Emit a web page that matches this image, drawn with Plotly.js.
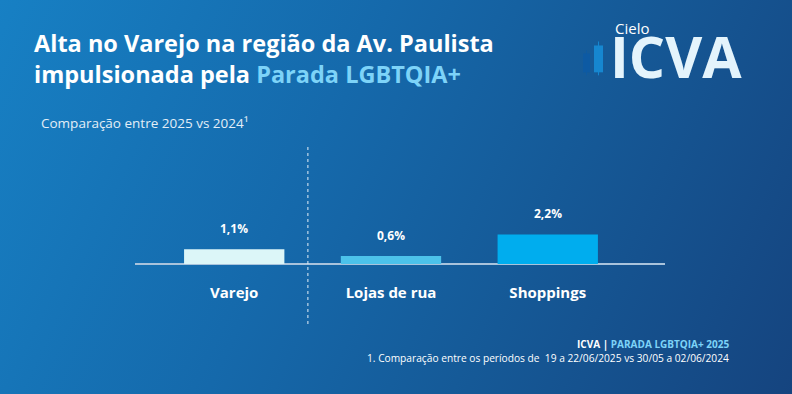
<!DOCTYPE html>
<html>
<head>
<meta charset="utf-8">
<script src="https://cdn.plot.ly/plotly-3.0.1.min.js"></script>
<style>
html,body{margin:0;padding:0;}
body{width:792px;height:394px;overflow:hidden;
background:linear-gradient(115deg,#1780c4 0%,#1569ab 40%,#155a98 65%,#15447f 100%);}
#chart{width:792px;height:394px;}
</style>
</head>
<body>
<div id="chart"></div>
<script>
const categories = ["Varejo", "Lojas de rua", "Shoppings"];
const values = [1.1, 0.6, 2.2];
const valueLabels = ["1,1%", "0,6%", "2,2%"];
const barColors = ["#dcf6f8", "#4cc2ea", "#00adee"];

const FONT = "Open Sans, Lato, sans-serif";

// plot area in pixels
const M = {l: 135, r: 127, t: 150, b: 129.5};
const PW = 792 - M.l - M.r, PH = 394 - M.t - M.b;
function px(x){return (x - M.l)/PW;}
function py(y){return (394 - M.b - y)/PH;}

const trace = {
  type: "bar",
  x: categories,
  y: values,
  marker: {color: barColors, line: {width: 0}},
  width: 0.64,
  hoverinfo: "skip"
};

const annotations = [];
categories.forEach((c, i) => {
  annotations.push({
    x: c, y: values[i], xref: "x", yref: "y",
    text: "<b>" + valueLabels[i] + "</b>",
    showarrow: false, yanchor: "bottom", yshift: 10,
    font: {family: FONT, size: 12, color: "#ffffff"}
  });
});

annotations.push(
  {xref: "paper", yref: "paper", x: px(33), y: py(58.5), xanchor: "left", yanchor: "middle",
   align: "left", showarrow: false, borderpad: 0,
   text: "<b>Alta no Varejo na região da Av. Paulista<br>impulsionada pela <span style='color:#7dd3f8'>Parada LGBTQIA+</span></b>",
   font: {family: FONT, size: 23.5, color: "#ffffff"}},
  {xref: "paper", yref: "paper", x: px(39), y: py(123), xanchor: "left", yanchor: "middle",
   showarrow: false, text: "Comparação entre 2025 vs 2024¹",
   font: {family: FONT, size: 13.5, color: "#e3eef7"}},
  {xref: "paper", yref: "paper", x: px(731), y: py(345), xanchor: "right", yanchor: "middle",
   showarrow: false, text: "<b>ICVA | <span style='color:#7dd3f8'>PARADA LGBTQIA+ 2025</span></b>",
   font: {family: FONT, size: 10, color: "#ffffff"}},
  {xref: "paper", yref: "paper", x: px(731), y: py(359), xanchor: "right", yanchor: "middle",
   showarrow: false, text: "1. Comparação entre os períodos de  19 a 22/06/2025 vs 30/05 a 02/06/2024",
   font: {family: FONT, size: 10.2, color: "#ffffff"}},
  {xref: "paper", yref: "paper", x: px(614), y: py(27), xanchor: "left", yanchor: "middle",
   showarrow: false, borderpad: 0, text: "Cielo",
   font: {family: FONT, size: 15, color: "#ffffff"}},
  {xref: "paper", yref: "paper", x: px(609), y: py(56), xanchor: "left", yanchor: "middle",
   showarrow: false, borderpad: 0, text: "<b>ICVA</b>",
   font: {family: FONT, size: 57, color: "#e4f4fc"}}
);

const shapes = [
  // dashed separator between Varejo and Lojas de rua
  {type: "line", xref: "x", yref: "paper", x0: 0.47, x1: 0.47, y0: py(147), y1: py(325),
   line: {color: "#e6f0f8", width: 1, dash: "3px,3px"}},
  // logo candles
  {type: "line", xref: "paper", yref: "paper", x0: px(586.5), x1: px(586.5), y0: py(75), y1: py(50),
   line: {color: "#0d5aa3", width: 1}},
  {type: "rect", xref: "paper", yref: "paper", x0: px(583), x1: px(590), y0: py(72), y1: py(53),
   fillcolor: "#0d5aa3", line: {width: 0}},
  {type: "line", xref: "paper", yref: "paper", x0: px(598.5), x1: px(598.5), y0: py(75), y1: py(41),
   line: {color: "#1687d0", width: 1}},
  {type: "rect", xref: "paper", yref: "paper", x0: px(594), x1: px(603), y0: py(72), y1: py(45),
   fillcolor: "#1687d0", line: {width: 0}}
];

const layout = {
  width: 792, height: 394,
  paper_bgcolor: "rgba(0,0,0,0)",
  plot_bgcolor: "rgba(0,0,0,0)",
  margin: {l: M.l, r: M.r, t: M.t, b: M.b, pad: 0},
  showlegend: false,
  font: {family: FONT, color: "#ffffff"},
  xaxis: {
    type: "category",
    range: [-0.633, 2.748],
    showgrid: false, zeroline: false, showline: false,
    ticks: "", ticklabelstandoff: 18,
    tickfont: {family: FONT, size: 15, color: "#ffffff", weight: "bold"},
    fixedrange: true
  },
  yaxis: {
    range: [0, 8.48],
    showgrid: false, showticklabels: false, ticks: "",
    zeroline: true, zerolinecolor: "#a9c3dc", zerolinewidth: 1.5,
    showline: false, fixedrange: true
  },
  annotations: annotations,
  shapes: shapes
};

Plotly.newPlot("chart", [trace], layout, {displayModeBar: false, staticPlot: true});
</script>
</body>
</html>
